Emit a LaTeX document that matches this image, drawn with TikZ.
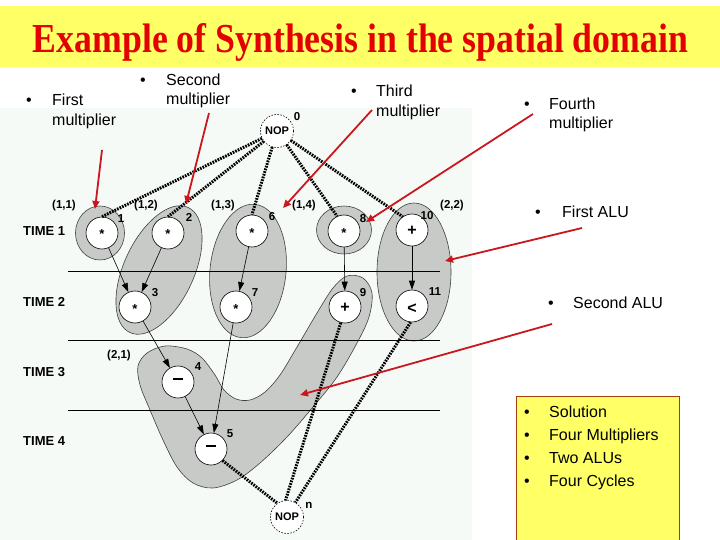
\documentclass[tikz,border=0pt]{standalone}
\usepackage{fontspec}
\setmainfont{Liberation Sans}
\newfontfamily\titlefont{Liberation Serif}
\usetikzlibrary{arrows.meta}
\definecolor{titleyellow}{RGB}{255,255,102}
\definecolor{titlered}{RGB}{226,0,0}
\definecolor{graphbg}{RGB}{246,250,246}
\definecolor{blobgray}{RGB}{199,202,199}
\definecolor{arrowred}{RGB}{200,24,30}
\definecolor{boxborder}{RGB}{170,60,20}
\newcommand\symc[2]{\raisebox{-#1}[0pt][0pt]{#2}}
\begin{document}
\begin{tikzpicture}[x=1pt,y=-1pt,
  op/.style={circle,draw,line width=0.6pt,fill=white,minimum size=32pt,inner sep=0pt,font=\fontsize{13}{13}\selectfont\bfseries},
  nopst/.style={circle,draw,line width=0.6pt,dash pattern=on 1.5pt off 1.5pt,fill=white,minimum size=33pt,inner sep=0pt,font=\fontsize{11}{11}\selectfont\bfseries},
  lbl/.style={inner sep=0pt,font=\fontsize{11.5}{12}\selectfont\bfseries},
  timelbl/.style={anchor=west,inner sep=0pt,font=\fontsize{13}{13}\selectfont\bfseries},
  blob/.style={fill=blobgray,draw=black!75,line width=0.6pt},
  dotline/.style={line width=3pt,dash pattern=on 1.7pt off 1.1pt},
  flow/.style={line width=0.6pt,-{Triangle[length=9pt,width=6pt]}},
  redarrow/.style={arrowred,line width=1.8pt,-{Triangle[length=8pt,width=7pt]}},
  bultxt/.style={anchor=base west,inner sep=0pt,font=\fontsize{16}{19}\selectfont},
  bulpt/.style={anchor=base,inner sep=0pt,font=\fontsize{16}{19}\selectfont},
  timeline/.style={line width=0.6pt}
]
\useasboundingbox (0,0) rectangle (720,540);
\fill[white] (0,0) rectangle (720,540);
% title band
\fill[titleyellow] (0,6) rectangle (720,67);
\node[anchor=base,inner sep=0pt,text=titlered] (title) at (360.5,53)
  {\resizebox{655pt}{29pt}{\titlefont\bfseries Example of Synthesis in the spatial domain}};
% graph background
\fill[graphbg] (0,108) rectangle (472,540);

% blobs
\draw[blob] (100,233) ellipse [x radius=24.5, y radius=27];
\draw[blob] (344,230) ellipse [x radius=27.5, y radius=24];
\draw[blob, rotate around={65:(159,270)}] (159,270) ellipse [x radius=69, y radius=35];
\draw[blob, rotate around={84:(248,271)}] (248,271) ellipse [x radius=67, y radius=38];
\draw[blob] (414,272) ellipse [x radius=37, y radius=69];
\draw[blob] plot[smooth cycle, tension=0.55] coordinates {
 (138,366) (147,353) (165,346) (187,349) (202,358) (215,375) (224,390)
 (236,399) (250,400) (265,392) (280,375) (297,347) (317,313) (333,288)
 (347,276) (363,278) (372,293) (369,317) (357,343) (337,377) (313,407)
 (287,437) (260,463) (237,480) (213,488) (193,483) (177,467) (163,440)
 (150,410) (140,385)};

% time lines
\draw[timeline] (68,271) -- (440,271);
\draw[timeline] (68,340.5) -- (440,340.5);
\draw[timeline] (68,410) -- (440,410);

% time labels
\node[timelbl] (t1) at (23,231) {TIME 1};
\node[timelbl] (t2) at (23,302) {TIME 2};
\node[timelbl] (t3) at (23,372) {TIME 3};
\node[timelbl] (t4) at (23,441) {TIME 4};

% operation nodes
\node[op] (n1) at (102,233) {\symc{6pt}{*}};
\node[op] (n2) at (168,233) {\symc{6pt}{*}};
\node[op] (n6) at (252,231) {\symc{6pt}{*}};
\node[op] (n8) at (344,231) {\symc{6pt}{*}};
\node[op,font=\fontsize{16}{16}\selectfont\bfseries] (n10) at (412,230) {\symc{5.4pt}{+}};
\node[op] (n3) at (135,307) {\symc{6pt}{*}};
\node[op] (n7) at (236,307) {\symc{6pt}{*}};
\node[op,font=\fontsize{16}{16}\selectfont\bfseries] (n9) at (345,307) {\symc{5.4pt}{+}};
\node[op,font=\fontsize{16}{16}\selectfont\bfseries] (n11) at (412,306) {\symc{7pt}{<}};
\node[op] (n4) at (178,382) {\symc{0pt}{\rule[2pt]{10pt}{2.2pt}}};
\node[op] (n5) at (211,449) {\symc{0pt}{\rule[2pt]{10pt}{2.2pt}}};
\node[nopst] (nop0) at (277,131) {\symc{3.9pt}{NOP}};
\node[nopst] (nopn) at (287,517) {\symc{3.9pt}{NOP}};

% node number labels
\node[lbl] (l0) at (297,117) {0};
\node[lbl] (l1) at (121,219) {1};
\node[lbl] (l2) at (189,217) {2};
\node[lbl] (l6) at (272,217) {6};
\node[lbl] (l8) at (363,219) {8};
\node[lbl] (l10) at (427,216) {10};
\node[lbl] (l3) at (155,293) {3};
\node[lbl] (l7) at (255,293) {7};
\node[lbl] (l9) at (363,293) {9};
\node[lbl] (l11) at (435,292) {11};
\node[lbl] (l4) at (198,367) {4};
\node[lbl] (l5) at (230,434) {5};
\node[lbl] (ln) at (309,505) {n};
% coordinate labels
\node[lbl] (c11) at (64,206) {(1,1)};
\node[lbl] (c12) at (146,206) {(1,2)};
\node[lbl] (c13) at (223,206) {(1,3)};
\node[lbl] (c14) at (304,206) {(1,4)};
\node[lbl] (c22) at (452,206) {(2,2)};
\node[lbl] (c21) at (119,356) {(2,1)};

% dotted connections
\draw[dotline] (nop0) -- (n1.north);
\draw[dotline] (nop0) -- (n2.north);
\draw[dotline] (nop0) -- (n6.north);
\draw[dotline] (nop0) -- (n8.115);
\draw[dotline] (nop0) -- (n10.125);
\draw[dotline] (n5.-45) -- (nopn.125);
\draw[dotline] (n9.-105) -- (nopn.95);
\draw[dotline] (n11.-95) -- (nopn.60);

% data flow arrows
\draw[flow] (n1) -- (n3);
\draw[flow] (n2) -- (n3);
\draw[flow] (n6) -- (n7);
\draw[flow] (n8) -- (n9);
\draw[flow] (n10) -- (n11);
\draw[flow] (n3) -- (n4);
\draw[flow] (n4) -- (n5);
\draw[flow] (n7) -- (n5);

% annotation texts
\node[bulpt] (b1) at (29,105.7) {•};
\node[bultxt] (a1a) at (52,105.7) {First};
\node[bultxt] (a1b) at (52,125.7) {multiplier};
\node[bulpt] (b2) at (143,86) {•};
\node[bultxt] (a2a) at (166,86) {Second};
\node[bultxt] (a2b) at (166,105) {multiplier};
\node[bulpt] (b3) at (354,97) {•};
\node[bultxt] (a3a) at (376,97) {Third};
\node[bultxt] (a3b) at (376,116.5) {multiplier};
\node[bulpt] (b4) at (527,110) {•};
\node[bultxt] (a4a) at (549,110) {Fourth};
\node[bultxt] (a4b) at (549,129) {multiplier};
\node[bulpt] (b5) at (538,218) {•};
\node[bultxt] (a5) at (562,218) {First ALU};
\node[bulpt] (b6) at (551,308) {•};
\node[bultxt] (a6) at (573,308) {Second ALU};

% red annotation arrows
\coordinate (r1s) at (102,150); \coordinate (r1e) at (95,209);
\coordinate (r2s) at (209,113); \coordinate (r2e) at (186,204);
\coordinate (r3s) at (372,110); \coordinate (r3e) at (283,208);
\coordinate (r4s) at (533,114); \coordinate (r4e) at (366,222);
\coordinate (r5s) at (582,228); \coordinate (r5e) at (445,261);
\coordinate (r6s) at (552,324); \coordinate (r6e) at (300,395);
\draw[redarrow] (r1s) -- (r1e);
\draw[redarrow] (r2s) -- (r2e);
\draw[redarrow] (r3s) -- (r3e);
\draw[redarrow] (r4s) -- (r4e);
\draw[redarrow] (r5s) -- (r5e);
\draw[redarrow] (r6s) -- (r6e);

% solution box
\fill[titleyellow] (516,396) rectangle (679,540);
\draw[boxborder,line width=1pt] (516,540) -- (516,396) -- (679,396) -- (679,540);
\node[bulpt] (s1b) at (527,417) {•};
\node[bultxt] (s1) at (549,417) {Solution};
\node[bulpt] (s2b) at (527,440) {•};
\node[bultxt] (s2) at (549,440) {Four Multipliers};
\node[bulpt] (s3b) at (527,463) {•};
\node[bultxt] (s3) at (549,463) {Two ALUs};
\node[bulpt] (s4b) at (527,486) {•};
\node[bultxt] (s4) at (549,486) {Four Cycles};
\end{tikzpicture}
\end{document}
